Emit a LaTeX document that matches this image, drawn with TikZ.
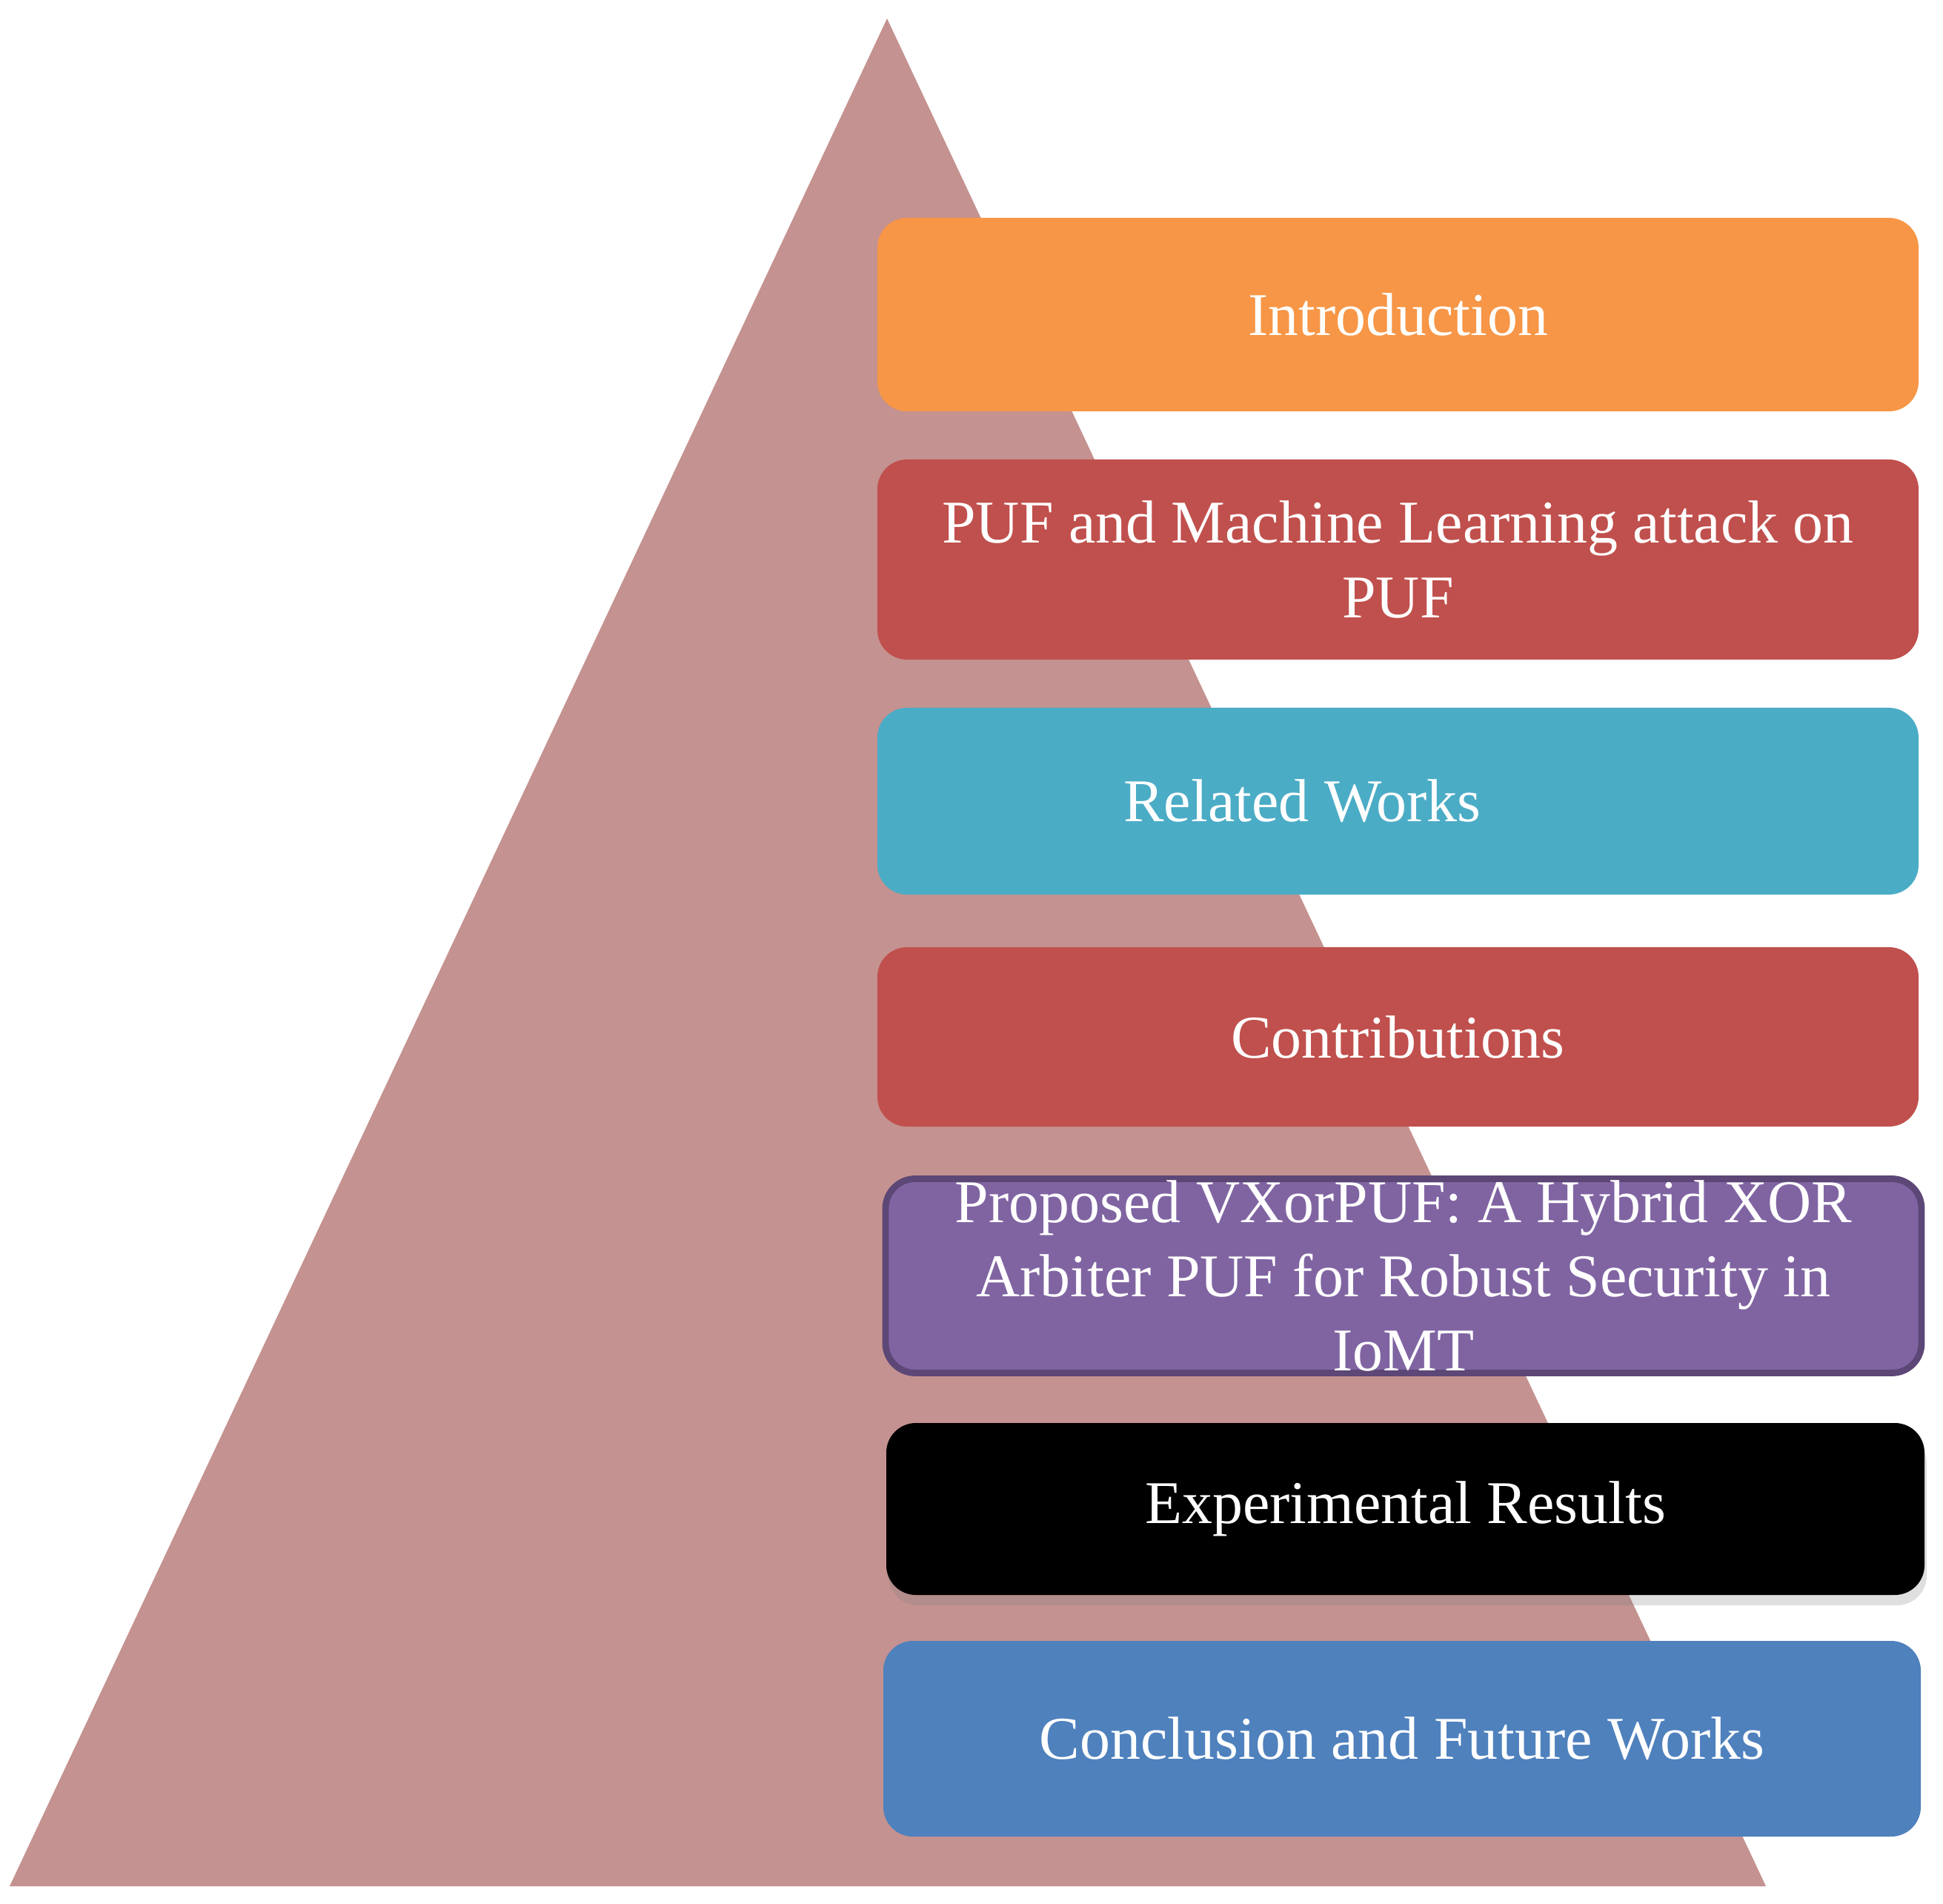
\documentclass[tikz,border=0pt]{standalone}
\usepackage{fontspec}
\setmainfont{Liberation Serif}
\usetikzlibrary{shadows}
\definecolor{pyramidRose}{HTML}{C49290}
\definecolor{secOrange}{HTML}{F79646}
\definecolor{secRed}{HTML}{C0504D}
\definecolor{secTeal}{HTML}{4BACC6}
\definecolor{secPurple}{HTML}{8064A2}
\definecolor{purpleDark}{HTML}{5C4776}
\definecolor{secBlue}{HTML}{4F81BD}

\begin{document}
\begin{tikzpicture}[
    secbox/.style={rectangle, rounded corners=0.4cm, inner sep=0pt},
    sectext/.style={text=white, align=center, inner sep=0pt,
      font=\fontsize{23.3}{28.5}\selectfont}
  ]
    \useasboundingbox (0,0) rectangle (26.22,25.68);
    % pyramid behind the sections
    \coordinate (apex) at (11.97,25.43);
    \coordinate (baseL) at (0.13,0.23);
    \coordinate (baseR) at (23.83,0.23);
    \fill[pyramidRose] (apex) -- (baseR) -- (baseL) -- cycle;

    % section boxes, top to bottom
    \node[secbox, fill=secOrange, minimum width=14.05cm, minimum height=2.61cm]
      (intro) at (18.865,21.435) {};
    \node[secbox, fill=secRed, minimum width=14.05cm, minimum height=2.70cm]
      (puf) at (18.865,18.13) {};
    \node[secbox, fill=secTeal, minimum width=14.05cm, minimum height=2.52cm]
      (related) at (18.865,14.87) {};
    \node[secbox, fill=secRed, minimum width=14.05cm, minimum height=2.42cm]
      (contrib) at (18.865,11.69) {};
    \node[secbox, fill=secPurple, draw=purpleDark, line width=2.5pt,
          minimum width=13.98cm, minimum height=2.62cm]
      (proposed) at (18.94,8.465) {};
    \node[secbox, fill=black, minimum width=14.01cm, minimum height=2.32cm,
          drop shadow={shadow xshift=0.03cm, shadow yshift=-0.14cm, opacity=0.25}]
      (results) at (18.965,5.32) {};
    \node[secbox, fill=secBlue, minimum width=14.0cm, minimum height=2.64cm]
      (conclusion) at (18.92,2.22) {};

    % titles
    \node[sectext] (introT) at (intro) {Introduction};
    \node[sectext] (pufT) at (puf) {PUF and Machine Learning attack on\\PUF};
    \node[sectext, xshift=-1.29cm] (relatedT) at (related) {Related Works};
    \node[sectext] (contribT) at (contrib) {Contributions};
    \node[sectext] (proposedT) at (proposed)
      {Proposed VXorPUF: A Hybrid XOR\\Arbiter PUF for Robust Security in\\IoMT};
    \node[sectext] (resultsT) at (results) {Experimental Results};
    \node[sectext] (conclusionT) at (conclusion) {Conclusion and Future Works};
\end{tikzpicture}
\end{document}
